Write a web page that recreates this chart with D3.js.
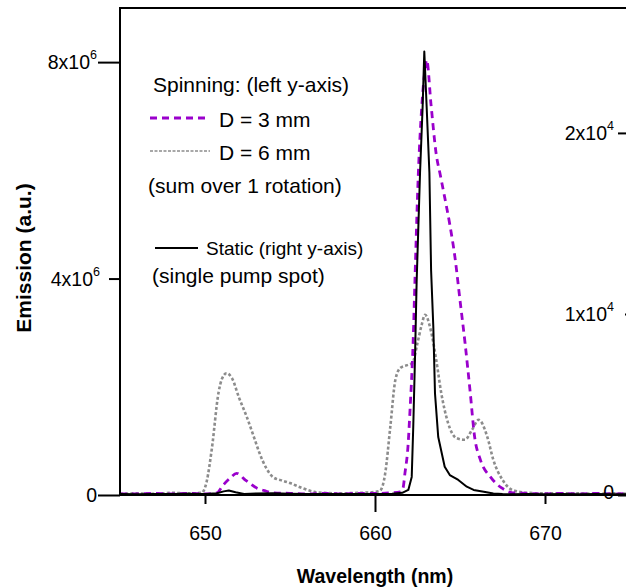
<!DOCTYPE html>
<html>
<head>
<meta charset="utf-8">
<script src="https://cdn.jsdelivr.net/npm/d3@7"></script>
<style>
  body { margin: 0; background: #fff; }
  svg { display: block; font-family: "Liberation Sans", Arial, sans-serif; }
  .axis path, .axis line { stroke: #000; stroke-width: 2; }
  .axis text { font-size: 19.5px; fill: #000; }
</style>
</head>
<body>
<svg id="chart"></svg>
<script>
// D = 6 mm spinning (left axis, x10^6)
const wl6 = [645, 646, 647, 648, 649, 649.8, 650.1, 650.4, 650.8, 651.0, 651.27, 651.6, 652.0, 652.45, 652.9, 653.2, 653.6, 654.0, 654.5, 655.0, 655.7, 656.4, 657, 658, 659, 659.8, 660.3, 660.6, 660.9, 661.2, 661.5, 661.9, 662.2, 662.5, 662.75, 662.94, 663.3, 663.6, 663.9, 664.3, 664.8, 665.3, 665.7, 666.1, 666.6, 666.96, 667.5, 668.1, 669, 670, 671, 672, 673, 674, 675];
const em6 = [0.02, 0.03, 0.02, 0.04, 0.03, 0.04, 0.25, 0.85, 1.9, 2.15, 2.25, 2.15, 1.8, 1.45, 1.05, 0.78, 0.5, 0.33, 0.27, 0.22, 0.13, 0.06, 0.04, 0.03, 0.04, 0.05, 0.08, 0.4, 1.26, 2.13, 2.35, 2.4, 2.44, 2.81, 3.15, 3.33, 3.02, 2.5, 1.88, 1.33, 1.05, 1.02, 1.2, 1.39, 1.08, 0.65, 0.28, 0.09, 0.04, 0.03, 0.03, 0.03, 0.02, 0.03, 0.02];

// D = 3 mm spinning (left axis, x10^6)
const wl3 = [645, 646, 647, 648, 649, 650, 650.7, 651.06, 651.5, 651.86, 652.4, 653.04, 653.5, 654, 655, 656, 657, 658, 659, 660, 661, 661.5, 661.65, 661.76, 661.94, 662.06, 662.24, 662.35, 662.55, 662.75, 662.94, 663.04, 663.3, 663.6, 663.85, 664.1, 664.4, 664.7, 665.0, 665.3, 665.6, 665.85, 666.2, 666.8, 667.45, 668.1, 669, 670, 671, 672, 673, 674, 675];
const em3 = [0.02, 0.02, 0.03, 0.02, 0.03, 0.02, 0.04, 0.18, 0.32, 0.40, 0.27, 0.13, 0.08, 0.04, 0.03, 0.02, 0.03, 0.02, 0.03, 0.03, 0.04, 0.06, 0.13, 0.4, 0.9, 1.57, 2.8, 3.97, 5.95, 7.17, 7.86, 8.04, 7.2, 6.3, 5.9, 5.5, 5.0, 4.4, 3.6, 2.8, 1.9, 1.1, 0.65, 0.33, 0.13, 0.04, 0.03, 0.02, 0.03, 0.02, 0.03, 0.02, 0.03];

// static, single pump spot (right axis, x10^3)
const wlS = [645, 646, 647, 648, 649, 650, 650.7, 651.1, 651.4, 651.8, 652.3, 653, 654, 655, 656, 657, 658, 659, 660, 661, 661.6, 661.96, 662.16, 662.25, 662.35, 662.45, 662.65, 662.8, 662.9, 663.04, 663.2, 663.3, 663.43, 663.53, 663.72, 664.1, 664.4, 664.9, 665.4, 665.8, 666.4, 666.96, 667.5, 668, 669, 670, 671, 672, 673, 674, 675];
const emS = [0.05, 0.04, 0.06, 0.05, 0.07, 0.05, 0.1, 0.2, 0.25, 0.15, 0.06, 0.08, 0.1, 0.07, 0.06, 0.05, 0.06, 0.05, 0.06, 0.07, 0.12, 0.28, 1.0, 3.76, 7.46, 11.8, 17.8, 21.4, 24.5, 21.4, 17.8, 12.4, 9.3, 5.6, 3.2, 1.56, 1.1, 0.83, 0.46, 0.28, 0.18, 0.08, 0.05, 0.04, 0.05, 0.04, 0.05, 0.04, 0.05, 0.04, 0.05];

const xTicks = [650, 660, 670];
const leftTicks = [0, 4, 8];
const leftTickLabels = [["0", ""], ["4x10", "6"], ["8x10", "6"]];
const rightTicks = [0, 10, 20];
const rightTickLabels = [["0", ""], ["1x10", "4"], ["2x10", "4"]];

const width = 626, height = 588;
const plot = { left: 120, top: 8, bottom: 495, right: 630 };

const svg = d3.select("#chart").attr("width", width).attr("height", height);

const x = d3.scaleLinear().domain([645, 675]).range([plot.left, plot.right]);
const yL = d3.scaleLinear().domain([0, 9.0]).range([plot.bottom, plot.top]);
const yR = d3.scaleLinear().domain([0, 26.9]).range([plot.bottom, plot.top]);

svg.append("clipPath").attr("id", "clip")
  .append("rect")
  .attr("x", plot.left).attr("y", plot.top)
  .attr("width", plot.right - plot.left).attr("height", plot.bottom - plot.top);

const series = [
  { wl: wl6, v: em6, y: yL, color: "#8c8c8c", width: 2.6, dash: "3,2.2", curve: d3.curveMonotoneX },
  { wl: wl3, v: em3, y: yL, color: "#9a00cc", width: 2.8, dash: "7,5", curve: d3.curveMonotoneX },
  { wl: wlS, v: emS, y: yR, color: "#000", width: 2, dash: null, curve: d3.curveLinear }
];

const g = svg.append("g").attr("clip-path", "url(#clip)");
series.forEach(s => {
  const line = d3.line()
    .x((d, i) => x(s.wl[i]))
    .y(d => s.y(d))
    .curve(s.curve);
  g.append("path")
    .attr("d", line(s.v))
    .attr("fill", "none")
    .attr("stroke", s.color)
    .attr("stroke-width", s.width)
    .attr("stroke-dasharray", s.dash)
    .attr("stroke-linejoin", "round");
});

function supLabel(sel, labels) {
  sel.each(function(d, i) {
    const t = d3.select(this).text(null);
    t.append("tspan").text(labels[i][0]);
    if (labels[i][1]) {
      t.append("tspan").attr("font-size", 12.5).attr("dy", -10).text(labels[i][1]);
    }
  });
}

// left axis
const gl = svg.append("g").attr("class", "axis")
  .attr("transform", `translate(${plot.left},0)`)
  .call(d3.axisLeft(yL).tickValues(leftTicks).tickSize(22).tickPadding(1).tickSizeOuter(0));
gl.select(".domain").attr("d", `M0,${plot.bottom}V${plot.top}`);
gl.selectAll(".tick line").attr("x2", d => d === 4 ? -11 : -22);
gl.selectAll(".tick text").attr("x", d => d === 4 ? -20 : -23).attr("dy", "0.35em").call(supLabel, leftTickLabels);

// right axis (off the right edge, labels point inward)
const gr = svg.append("g").attr("class", "axis")
  .attr("transform", `translate(${plot.right + 2},0)`)
  .call(d3.axisLeft(yR).tickValues(rightTicks).tickSize(14).tickPadding(4).tickSizeOuter(0));
gr.select(".domain").remove();
gr.selectAll(".tick line").attr("x2", d => d === 10 ? -7 : -14);
gr.selectAll(".tick text").attr("x", -18).attr("dy", d => d === 0 ? "0.2em" : "0.35em").call(supLabel, rightTickLabels);

// bottom axis
const gb = svg.append("g").attr("class", "axis")
  .attr("transform", `translate(0,${plot.bottom})`)
  .call(d3.axisBottom(x).tickValues(xTicks).tickSize(9).tickSizeOuter(0));
gb.select(".domain").attr("d", `M${plot.left},0H${width}`);
gb.selectAll(".tick line").attr("y2", d => d === 660 ? 17 : 9);
gb.selectAll(".tick text").attr("y", 45).attr("dy", 0).text(d => d);

// top frame line
svg.append("line")
  .attr("x1", plot.left - 1).attr("x2", width)
  .attr("y1", plot.top).attr("y2", plot.top)
  .attr("stroke", "#000").attr("stroke-width", 2);

// axis titles
svg.append("text")
  .attr("x", 375).attr("y", 583)
  .attr("text-anchor", "middle")
  .attr("font-size", 19.5).attr("font-weight", "bold")
  .text("Wavelength (nm)");

svg.append("text")
  .attr("transform", "translate(31,258) rotate(-90)")
  .attr("text-anchor", "middle")
  .attr("font-size", 21).attr("font-weight", "bold")
  .text("Emission (a.u.)");

// legend
const lg = svg.append("g").attr("font-size", 21).attr("fill", "#000");
lg.append("text").attr("x", 153).attr("y", 92).text("Spinning: (left y-axis)");
lg.append("line").attr("x1", 150).attr("x2", 210).attr("y1", 118).attr("y2", 118)
  .attr("stroke", series[1].color).attr("stroke-width", 2.8).attr("stroke-dasharray", "7,5");
lg.append("text").attr("x", 219).attr("y", 127).text("D = 3 mm");
lg.append("line").attr("x1", 150).attr("x2", 210).attr("y1", 151).attr("y2", 151)
  .attr("stroke", series[0].color).attr("stroke-width", 1.6).attr("stroke-dasharray", "3,1.5");
lg.append("text").attr("x", 219).attr("y", 160).text("D = 6 mm");
lg.append("text").attr("x", 148).attr("y", 193).text("(sum over 1 rotation)");
lg.append("line").attr("x1", 155).attr("x2", 198).attr("y1", 248).attr("y2", 248)
  .attr("stroke", "#000").attr("stroke-width", 2);
lg.append("text").attr("x", 206).attr("y", 255).attr("font-size", 19).text("Static (right y-axis)");
lg.append("text").attr("x", 152).attr("y", 283).text("(single pump spot)");
</script>
</body>
</html>
